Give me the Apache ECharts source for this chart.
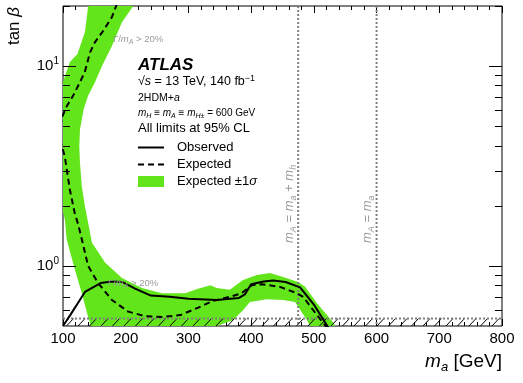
<!DOCTYPE html>
<html>
<head>
<meta charset="utf-8">
<script src="https://cdn.jsdelivr.net/npm/echarts@6/dist/echarts.min.js"></script>
<style>
html, body { margin: 0; padding: 0; background: #fff; }
#chart { width: 523px; height: 383px; }
</style>
</head>
<body>
<div id="chart"></div>
<script>
// values: m_a in GeV, tan(beta)
var obsMa = [100, 112, 135, 160, 178, 195, 215, 240, 270, 300, 345, 380, 390, 400, 420, 435, 455, 478, 500, 525];
var obsTb = [0.5, 0.57, 0.74, 0.82, 0.835, 0.83, 0.77, 0.71, 0.70, 0.685, 0.675, 0.69, 0.72, 0.81, 0.835, 0.845, 0.83, 0.78, 0.64, 0.48];

var expMa = [186, 178, 164, 151, 143, 135, 127, 116, 106, 100, 92, 100, 103, 111, 119, 124, 130, 140, 156, 178, 204, 231, 260, 287, 314, 339, 366, 385, 401, 417, 446, 473, 483, 499, 523];
var expTb = [20.5, 17.6, 15, 13.2, 11.7, 9.4, 8.3, 7.1, 6.3, 5.7, 4.6, 3.8, 3.5, 2.4, 1.82, 1.62, 1.36, 1.0, 0.82, 0.675, 0.59, 0.56, 0.555, 0.567, 0.615, 0.667, 0.70, 0.73, 0.80, 0.81, 0.785, 0.73, 0.70, 0.60, 0.48];

// +-1 sigma band outline (closed contour)
var bandMa = [141, 212, 212, 194, 178, 162, 151, 140, 133, 127, 126, 127, 130, 135, 140, 146, 167, 194, 226, 258, 295, 314, 335, 345, 366, 387, 409, 430, 451, 475, 486, 505, 531, 540, 496, 494, 489, 470, 451, 425, 398, 387, 371, 345, 340, 147, 146, 140, 130, 119, 106, 103, 95, 90, 90, 100, 103, 111, 123, 135, 141];
var bandTb = [21, 21, 20, 16.6, 12.6, 10, 8.3, 7.1, 6.1, 4.8, 3.96, 3.3, 2.5, 1.98, 1.65, 1.31, 1.04, 0.87, 0.775, 0.73, 0.73, 0.766, 0.80, 0.775, 0.76, 0.85, 0.90, 0.92, 0.88, 0.83, 0.785, 0.65, 0.52, 0.45, 0.45, 0.5, 0.535, 0.66, 0.675, 0.68, 0.66, 0.60, 0.535, 0.5, 0.45, 0.45, 0.48, 0.555, 0.73, 0.955, 1.35, 1.70, 2.2, 3.0, 7.0, 8.3, 8.9, 10.5, 11.5, 14.8, 21];

var hatchTb = [0.5, 0.545];     // excluded region
var markerMa = [475, 600];      // m_A = m_a + m_h , m_A = m_a
var yMajor = [1, 10];
var yMinor = [0.6, 0.7, 0.8, 0.9, 2, 3, 4, 5, 6, 7, 8, 9, 20];

var FONT = '"Liberation Sans", Arial, Helvetica, sans-serif';
var GREEN = '#63e51c';
var GREY = '#9a9a9a';

function pairs(xs, ys) {
  var out = [];
  for (var i = 0; i < xs.length; i++) out.push([xs[i], ys[i]]);
  return out;
}

// rich text helper: n normal, i italic, s subscript, is italic subscript, p superscript
function rich(size, color) {
  var lh = size + 4;
  var small = Math.round(size * 0.7);
  var off = Math.round(lh - size * 0.6);
  var base = { fontSize: size, fontFamily: FONT, fill: color, lineHeight: lh };
  return {
    n: base,
    i: Object.assign({}, base, { fontStyle: 'italic' }),
    b: Object.assign({}, base, { fontStyle: 'italic', fontWeight: 'bold' }),
    s: { fontSize: small, fontFamily: FONT, fill: color, lineHeight: off, verticalAlign: 'bottom' },
    is: { fontSize: small, fontFamily: FONT, fill: color, lineHeight: off, verticalAlign: 'bottom', fontStyle: 'italic' },
    p: { fontSize: small, fontFamily: FONT, fill: color, lineHeight: off, verticalAlign: 'top' }
  };
}

function text(x, y, str, size, color, extra) {
  var el = {
    type: 'text', x: x, y: y, z: 100,
    style: { text: str, rich: rich(size, color || '#000'), textAlign: 'left', textVerticalAlign: 'middle' }
  };
  if (extra) {
    if (extra.rotation) el.rotation = extra.rotation;
    if (extra.align) el.style.textAlign = extra.align;
    if (extra.valign) el.style.textVerticalAlign = extra.valign;
  }
  return el;
}

var tickData = [];
yMajor.forEach(function (v) { tickData.push([100, v, 13]); });
yMinor.forEach(function (v) { tickData.push([100, v, 7]); });

var myChart = echarts.init(document.getElementById('chart'));

var option = {
  animation: false,
  backgroundColor: '#fff',
  grid: { left: 63, right: 21, top: 6, bottom: 57, show: true, borderColor: '#000', borderWidth: 1, backgroundColor: 'transparent' },
  xAxis: [{
    type: 'value', min: 100, max: 800, interval: 100,
    axisLine: { show: false },
    axisTick: { inside: true, length: 7, lineStyle: { color: '#000' } },
    minorTick: { show: true, splitNumber: 5, length: 4, lineStyle: { color: '#000' } },
    splitLine: { show: false },
    axisLabel: { fontSize: 15, color: '#000', fontFamily: FONT, margin: 5 }
  }, {
    type: 'value', min: 100, max: 800, interval: 100, position: 'top',
    axisLine: { show: false },
    axisTick: { inside: true, length: 7, lineStyle: { color: '#000' } },
    minorTick: { show: true, splitNumber: 5, length: 4, lineStyle: { color: '#000' } },
    splitLine: { show: false },
    axisLabel: { show: false }
  }],
  yAxis: {
    type: 'log', logBase: 10, min: 0.5, max: 20,
    axisLine: { show: false },
    axisTick: { show: false },
    splitLine: { show: false },
    axisLabel: {
      margin: 4,
      formatter: function (v) {
        var e = Math.round(Math.log(v) / Math.LN10);
        if (Math.abs(v - Math.pow(10, e)) > 1e-6 * v) return '';
        return '{b|10}{s|' + e + '}';
      },
      rich: {
        b: { fontSize: 15, color: '#000', fontFamily: FONT, lineHeight: 20 },
        s: { fontSize: 10, color: '#000', fontFamily: FONT, lineHeight: 12, verticalAlign: 'top' }
      }
    }
  },
  series: [
    {
      name: 'band', type: 'custom', clip: true, z: 1,
      data: [[100, 1]],
      renderItem: function (params, api) {
        var pts = [];
        for (var i = 0; i < bandMa.length; i++) pts.push(api.coord([bandMa[i], bandTb[i]]));
        return { type: 'polygon', shape: { points: pts }, style: { fill: GREEN, stroke: null } };
      }
    },
    {
      name: 'markers', type: 'custom', clip: true, z: 2,
      data: markerMa.map(function (m) { return [m, 1]; }),
      renderItem: function (params, api) {
        var m = api.value(0);
        var a = api.coord([m, 20]);
        var b = api.coord([m, 0.5]);
        return { type: 'line', shape: { x1: a[0], y1: a[1], x2: b[0], y2: b[1] },
          style: { stroke: '#808080', lineWidth: 2, lineDash: [2, 2] } };
      }
    },
    {
      name: 'excluded', type: 'custom', clip: true, z: 3,
      data: [[100, hatchTb[0]]],
      renderItem: function (params, api) {
        var a = api.coord([100, hatchTb[1]]);
        var b = api.coord([800, hatchTb[0]]);
        var kids = [];
        for (var x = a[0] - 8; x < b[0] + 2; x += 11.5) {
          kids.push({ type: 'line', shape: { x1: x, y1: b[1], x2: x + 7, y2: a[1] },
            style: { stroke: '#000', lineWidth: 1 } });
        }
        kids.push({ type: 'line', shape: { x1: a[0], y1: a[1], x2: b[0], y2: a[1] },
          style: { stroke: '#808080', lineWidth: 2, lineDash: [2, 2] } });
        return { type: 'group', children: kids };
      }
    },
    {
      name: 'Expected', type: 'line', z: 4, symbol: 'none', clip: true,
      data: pairs(expMa, expTb),
      lineStyle: { color: '#000', width: 2, type: [6, 4] }
    },
    {
      name: 'Observed', type: 'line', z: 5, symbol: 'none', clip: true,
      data: pairs(obsMa, obsTb),
      lineStyle: { color: '#000', width: 2 }
    },
    {
      name: 'yticks', type: 'custom', z: 6,
      data: tickData,
      renderItem: function (params, api) {
        var v = api.value(1), len = api.value(2);
        var l = api.coord([100, v]);
        var r = api.coord([800, v]);
        var y = Math.round(l[1]) + 0.5;
        return { type: 'group', children: [
          { type: 'line', shape: { x1: l[0], y1: y, x2: l[0] + len, y2: y }, style: { stroke: '#000', lineWidth: 1 } },
          { type: 'line', shape: { x1: r[0] - len, y1: y, x2: r[0], y2: y }, style: { stroke: '#000', lineWidth: 1 } }
        ] };
      }
    }
  ],
  graphic: [
    text(138, 65, '{b|ATLAS}', 17),
    text(138, 82, '{n|√}{i|s}{n| = 13 TeV, 140 fb}{p|−1}', 12.5),
    text(138, 98, '{n|2HDM+}{i|a}', 10.5),
    text(138, 113, '{i|m}{is|H}{n| ≡ }{i|m}{is|A}{n| ≡ }{i|m}{is|H±}{n| = 600 GeV}', 10),
    text(138, 128, '{n|All limits at 95% CL}', 13),
    { type: 'line', z: 100, shape: { x1: 138, y1: 147.5, x2: 164, y2: 147.5 }, style: { stroke: '#000', lineWidth: 2 } },
    { type: 'line', z: 100, shape: { x1: 138, y1: 164.5, x2: 164, y2: 164.5 }, style: { stroke: '#000', lineWidth: 2, lineDash: [6, 4] } },
    { type: 'rect', z: 100, shape: { x: 138, y: 176, width: 26, height: 11 }, style: { fill: GREEN } },
    text(177, 147, '{n|Observed}', 13),
    text(177, 164, '{n|Expected}', 13),
    text(177, 181, '{n|Expected ±1}{i|σ}', 13),
    text(113, 39, '{n|Γ/}{i|m}{is|A}{n| > 20%}', 9.5, GREY),
    text(108, 283, '{n|Γ/}{i|m}{is|A}{n| > 20%}', 9.5, GREY),
    text(298, 243, '{i|m}{is|A}{n| = }{i|m}{is|a}{n| + }{i|m}{is|h}', 13, GREY, { rotation: Math.PI / 2, valign: 'bottom' }),
    text(376, 243, '{i|m}{is|A}{n| = }{i|m}{is|a}', 13, GREY, { rotation: Math.PI / 2, valign: 'bottom' }),
    text(502, 362, '{i|m}{is|a}{n| [GeV]}', 19, '#000', { align: 'right' }),
    text(14, 7, '{n|tan }{i|β}', 17, '#000', { rotation: Math.PI / 2, align: 'right' })
  ]
};

myChart.setOption(option);
</script>
</body>
</html>
